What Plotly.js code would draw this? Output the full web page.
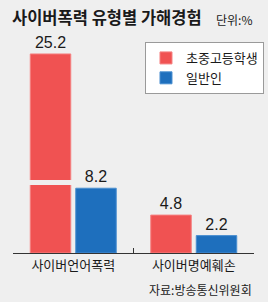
<!DOCTYPE html>
<html>
<head>
<meta charset="utf-8">
<script src="https://cdn.plot.ly/plotly-3.0.1.min.js"></script>
<style>
html,body{margin:0;padding:0;background:#efefef;}
#chart{width:268px;height:302px;}
</style>
</head>
<body>
<div id="chart"></div>
<script>
const categories = ["사이버언어폭력", "사이버명예훼손"];
const seriesNames = ["초중고등학생", "일반인"];
const students = [25.2, 4.8];
const adults = [8.2, 2.2];
const breakLow = 8.6, breakHigh = 9.25;

const FONT = '"Noto Sans CJK KR", "Noto Sans", sans-serif';
const NUMFONT = '"Liberation Sans", Arial, sans-serif';
const BG = '#efefef';

const traces = [
  {type:'bar', name:seriesNames[0], x:categories, y:students,
   marker:{color:'#f05252', line:{color:'#f58080', width:1}},
   text:students.map(v=>v.toFixed(1)), textposition:'outside', cliponaxis:false,
   textfont:{family:NUMFONT, size:16, color:'#1a1a1a'}},
  {type:'bar', name:seriesNames[1], x:categories, y:adults,
   marker:{color:'#1e6fbd', line:{color:'#4a8fd0', width:1}},
   text:adults.map(v=>v.toFixed(1)), textposition:'outside', cliponaxis:false,
   textfont:{family:NUMFONT, size:16, color:'#1a1a1a'}}
];

const layout = {
  width:268, height:302,
  paper_bgcolor:BG, plot_bgcolor:BG,
  margin:{l:13, r:14, t:35, b:49, pad:0, autoexpand:false},
  barmode:'group', bargap:0.245, bargroupgap:0.11,
  font:{family:FONT, color:'#1a1a1a'},
  showlegend:true,
  legend:{xref:'container', yref:'container', x:0.541, y:0.861, xanchor:'left', yanchor:'top',
    bgcolor:'#ffffff', bordercolor:'#9a9a9a', borderwidth:1,
    font:{family:FONT, size:13, color:'#1a1a1a'}, tracegroupgap:0, itemwidth:30},
  xaxis:{type:'category', range:[-0.5,1.5], tickson:'boundaries',
    ticks:'inside', ticklen:5, tickcolor:'#333', showline:true, linecolor:'#333', linewidth:1,
    showgrid:false, zeroline:false, fixedrange:true,
    tickfont:{family:FONT, size:13, color:'#1a1a1a'}},
  yaxis:{range:[0,27.6], visible:false, showgrid:false, zeroline:false, fixedrange:true},
  shapes:[
    {type:'rect', xref:'x', yref:'y', x0:-0.5, x1:0, y0:breakLow, y1:breakHigh,
     fillcolor:BG, line:{width:0}, layer:'above'}
  ],
  annotations:[
    {text:'<b>사이버폭력 유형별 가해경험</b>', xref:'paper', yref:'paper', x:-0.013, y:1.0, yanchor:'bottom', xanchor:'left',
     yshift:4, showarrow:false, font:{family:FONT, size:16.5, color:'#1a1a1a'}},
    {text:'단위:%', xref:'paper', yref:'paper', x:1.0, y:1.0, yanchor:'bottom', xanchor:'right',
     yshift:5, showarrow:false, font:{family:FONT, size:12, color:'#1a1a1a'}},
    {text:'자료:방송통신위원회', xref:'paper', yref:'paper', x:1.0, y:0, yanchor:'top', xanchor:'right',
     yshift:-26, showarrow:false, font:{family:FONT, size:12, color:'#1a1a1a'}}
  ]
};

Plotly.newPlot('chart', traces, layout, {displayModeBar:false, staticPlot:true});
</script>
</body>
</html>
